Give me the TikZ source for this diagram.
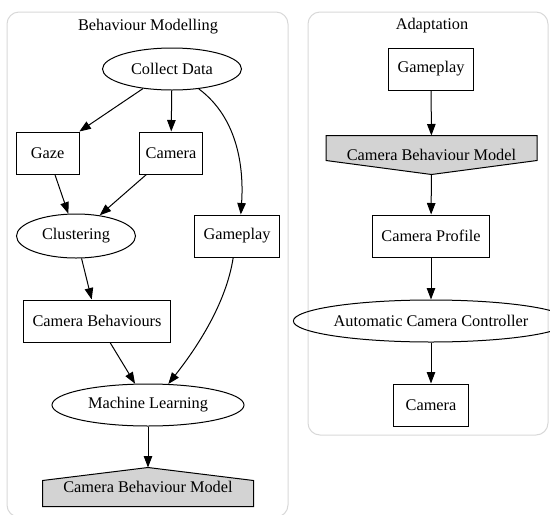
\documentclass[tikz,border=0pt]{standalone}
\usepackage{fontspec}
\setmainfont{Liberation Serif}
\usetikzlibrary{shapes.geometric,arrows.meta,backgrounds}
\definecolor{modelgray}{RGB}{211,211,211}
\definecolor{clustergray}{RGB}{216,216,216}
\tikzset{
    >={Triangle[length=11.5pt,width=8.5pt]},
    every path/.style={line width=1pt},
    box/.style={draw,rectangle,minimum width=63pt,minimum height=42pt,inner xsep=9pt},
    oval/.style={draw,ellipse,inner sep=0pt,minimum height=42pt},
    model/.style={rectangle,inner sep=0pt,minimum width=210pt,minimum height=38pt},
    cluster/.style={draw=clustergray,rounded corners=12pt}
}
\begin{document}
\begin{tikzpicture}[x=1pt,y=-1pt,font=\fontsize{16.3}{19.6}\selectfont]
    \useasboundingbox (0,0) rectangle (550,515);

    % clusters
    \draw[cluster] (7,12) rectangle (288,517);
    \draw[cluster] (308,12) rectangle (548,435);
    \node (bm) at (148,27) {Behaviour Modelling};
    \node (ad) at (432,26) {Adaptation};

    % behaviour modelling
    \node[oval,minimum width=139pt] (cd) at (172,69) {Collect Data};
    \node[box] (gaze) at (47.5,153) {Gaze};
    \node[box,inner xsep=6.5pt] (cam) at (171,153) {Camera};
    \node[oval,minimum width=119pt,minimum height=44pt] (clus) at (76,236) {Clustering};
    \node[box] (gpl) at (237,236) {Gameplay};
    \node[box] (cb) at (97,321) {Camera Behaviours};
    \node[oval,minimum width=192pt] (ml) at (148,405) {Machine Learning};
    \node[model] (cbm) at (148,487) {Camera Behaviour Model};

    % adaptation
    \node[box] (gpr) at (431,69) {Gameplay};
    \node[model] (cbmr) at (431.5,155) {Camera Behaviour Model};
    \node[box] (prof) at (431,236) {Camera Profile};
    \node[oval,minimum width=228pt] (acc) at (431,321) {Automatic Camera Controller};
    \node[box,minimum width=75pt] (camr) at (431,405) {Camera};

    \begin{pgfonlayer}{background}
        \filldraw[fill=modelgray] (cbm.south west) -- (cbm.south east) -- ([yshift=-13pt]cbm.north east)
            -- (cbm.north) -- ([yshift=-13pt]cbm.north west) -- cycle;
        \filldraw[fill=modelgray] (cbmr.north west) -- (cbmr.north east) -- ([yshift=14pt]cbmr.south east)
            -- (cbmr.south) -- ([yshift=14pt]cbmr.south west) -- cycle;
    \end{pgfonlayer}

    \draw[->] (cd) -- (gaze);
    \draw[->] (cd) -- (cam);
    \draw[->] (cd) .. controls (238,118) and (244,168) .. (gpl.80);
    \draw[->] (gaze) -- (clus);
    \draw[->] (cam) -- (clus);
    \draw[->] (clus) -- (cb);
    \draw[->] (cb) -- (ml);
    \draw[->] (gpl.-100) .. controls (226,305) and (195,350) .. (ml.46);
    \draw[->] (ml) -- (cbm);

    \draw[->] (gpr) -- (cbmr);
    \draw[->] (cbmr) -- (prof);
    \draw[->] (prof) -- (acc);
    \draw[->] (acc) -- (camr);
\end{tikzpicture}
\end{document}
